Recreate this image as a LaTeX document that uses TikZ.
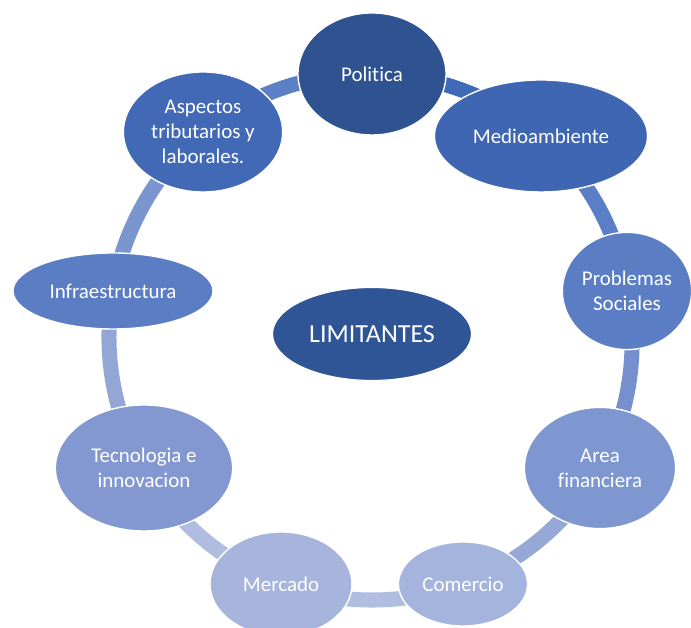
\documentclass[tikz,border=0pt]{standalone}
\usepackage{fontspec}
\setmainfont{Carlito}[Ligatures=NoCommon]
\usetikzlibrary{shapes.geometric,backgrounds}
\definecolor{cPol}{HTML}{2F5391}
\definecolor{cMed}{HTML}{3E66B3}
\definecolor{cSoc}{HTML}{5B7DC4}
\definecolor{cFin}{HTML}{7F97D0}
\definecolor{cCom}{HTML}{A5B4DD}
\definecolor{cMer}{HTML}{A7B5DD}
\definecolor{cTec}{HTML}{8398D1}
\definecolor{cInf}{HTML}{5B7DC4}
\definecolor{cAsp}{HTML}{4169B6}
\definecolor{cLim}{HTML}{2F5597}
\tikzset{
	item/.style = {draw=white, line width=1pt, ellipse, inner sep=0pt,
		text=white, align=center, font=\fontsize{14.9}{17.8}\selectfont},
	center/.style = {item, font=\fontsize{18.5}{22}\selectfont},
	band/.style = {line width=10.7pt, looseness=0.88}
}

\begin{document}
\begin{tikzpicture}[x=0.025cm, y=0.025cm]
	\useasboundingbox (0,0) rectangle (691,628);
	\draw
	% Drawing the nodes of the cycle
	node at (372,554)[item, fill=cPol, minimum width=3.70cm, minimum height=3.05cm] (pol) {Politica}
	node at (541,492)[item, fill=cMed, minimum width=5.33cm, minimum height=2.80cm] (med) {Medioambiente}
	node at (627,337)[item, fill=cSoc, minimum width=3.23cm, minimum height=2.93cm] (soc) {Problemas\\Sociales}
	node at (600,160)[item, fill=cFin, minimum width=3.78cm, minimum height=3.03cm] (fin) {Area\\financiera}
	node at (463,44)[item, fill=cCom, minimum width=3.23cm, minimum height=2.10cm] (com) {Comercio}
	node at (281,44)[item, fill=cMer, minimum width=3.55cm, minimum height=2.60cm] (mer) {Mercado}
	node at (144,160)[item, fill=cTec, minimum width=4.43cm, minimum height=3.15cm] (tec) {Tecnologia e\\innovacion}
	node at (113,337)[item, fill=cInf, minimum width=5.00cm, minimum height=1.90cm] (inf) {Infraestructura}
	node at (203,496)[item, fill=cAsp, minimum width=3.98cm, minimum height=3.00cm] (asp) {Aspectos\\tributarios y\\laborales.}
	% center
	node at (372,294)[center, fill=cLim, minimum width=4.98cm, minimum height=2.33cm] (lim) {LIMITANTES};
	
	% ring behind the nodes
	\begin{pgfonlayer}{background}
	\draw[band, color={rgb,255:red,63;green,106;blue,184}] (pol.center) to[bend left=20] (med.center);
	\draw[band, color={rgb,255:red,91;green,127;blue,198}] (med.center) to[bend left=20] (soc.center);
	\draw[band, color={rgb,255:red,117;green,144;blue,205}] (soc.center) to[bend left=20] (fin.center);
	\draw[band, color={rgb,255:red,150;green,168;blue,214}] (fin.center) to[bend left=20] (com.center);
	\draw[band, color={rgb,255:red,177;green,189;blue,225}] (com.center) to[bend left=20] (mer.center);
	\draw[band, color={rgb,255:red,176;green,188;blue,224}] (mer.center) to[bend left=20] (tec.center);
	\draw[band, color={rgb,255:red,147;green,166;blue,214}] (tec.center) to[bend left=20] (inf.center);
	\draw[band, color={rgb,255:red,123;green,150;blue,207}] (inf.center) to[bend left=20] (asp.center);
	\draw[band, color={rgb,255:red,91;green,128;blue,198}] (asp.center) to[bend left=20] (pol.center);
	\end{pgfonlayer}
\end{tikzpicture}
\end{document}
